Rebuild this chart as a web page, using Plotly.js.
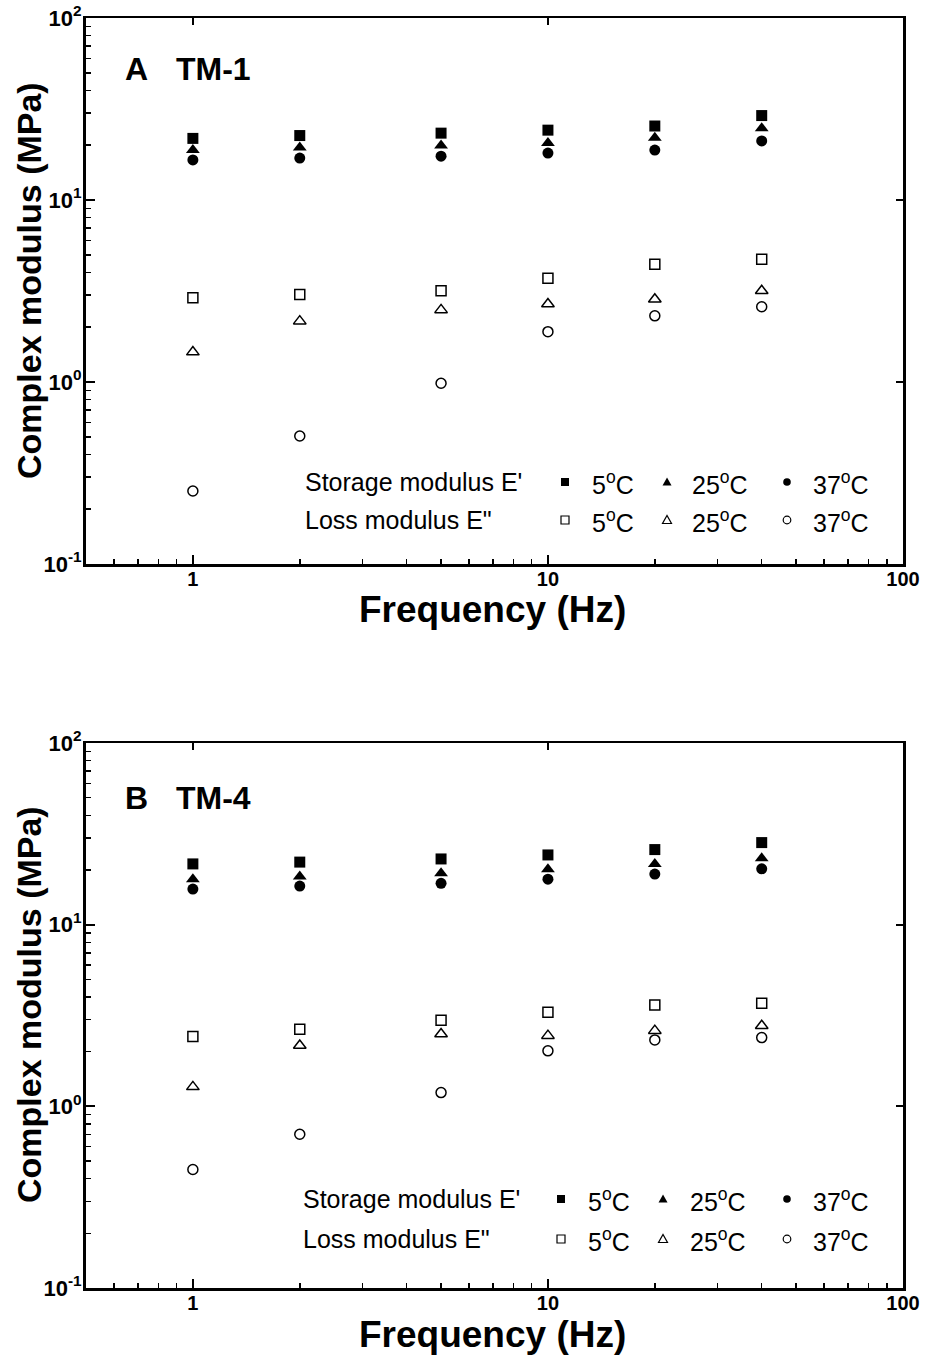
<!DOCTYPE html>
<html>
<head>
<meta charset="utf-8">
<script src="https://cdn.plot.ly/plotly-3.0.1.min.js"></script>
<style>html,body{margin:0;padding:0;background:#fff;}#chart{width:929px;height:1357px;}</style>
</head>
<body>
<div id="chart"></div>
<script>
// ---------------- data ----------------
const frequencyHz = [1, 2, 5, 10, 20, 40];

// Panel A : TM-1
const storageA_5C  = [21.8, 22.6, 23.3, 24.2, 25.5, 29.1];
const storageA_25C = [18.8, 19.4, 19.9, 20.6, 22.0, 24.8];
const storageA_37C = [16.6, 17.0, 17.4, 18.1, 18.8, 21.1];
const lossA_5C     = [2.90, 3.03, 3.17, 3.71, 4.43, 4.72];
const lossA_25C    = [1.46, 2.16, 2.49, 2.68, 2.85, 3.17];
const lossA_37C    = [0.252, 0.505, 0.984, 1.89, 2.31, 2.59];

// Panel B : TM-4
const storageB_5C  = [21.6, 22.1, 23.0, 24.2, 25.9, 28.3];
const storageB_25C = [17.8, 18.4, 19.2, 20.2, 21.6, 23.2];
const storageB_37C = [15.7, 16.3, 16.9, 17.8, 19.0, 20.3];
const lossB_5C     = [2.42, 2.66, 2.98, 3.30, 3.61, 3.69];
const lossB_25C    = [1.28, 2.16, 2.50, 2.45, 2.61, 2.78];
const lossB_37C    = [0.449, 0.702, 1.19, 2.02, 2.32, 2.39];

const seriesNames = ["Storage 5°C", "Storage 25°C", "Storage 37°C", "Loss 5°C", "Loss 25°C", "Loss 37°C"];
const temperatureLabels = ["5<sup>o</sup>C", "25<sup>o</sup>C", "37<sup>o</sup>C"];
const rowLabels = ["Storage modulus E'", "Loss modulus E\""];
const panelLetters = ["A", "B"];
const panelNames = ["TM-1", "TM-4"];

const xTickVals = [1, 10, 100];
const xTickText = ["1", "10", "100"];
const yTickVals = [0.1, 1, 10, 100];
const yTickText = ["10<sup>-1</sup>", "10<sup>0</sup>", "10<sup>1</sup>", "10<sup>2</sup>"];
const xTitle = "Frequency (Hz)";
const yTitle = "Complex modulus (MPa)";

// ---------------- styling ----------------
const FONT = "Liberation Sans, Arial, sans-serif";
const W = 929, H = 1357;
const M = {l: 86, r: 26, t: 18, b: 69};
const PW = W - M.l - M.r, PH = H - M.t - M.b;
const px2x = px => (px - M.l) / PW;
const py2y = py => 1 - (py - M.t) / PH;

const symbols = ["square", "triangle-up", "circle", "square-open", "triangle-up-open", "circle-open"];
const sizes = [11, 12, 11, 10, 11, 10];

function minorTicks(lo, hi) {
  const v = [];
  for (let e = lo; e < hi; e++) for (let d = 2; d <= 9; d++) v.push(d * Math.pow(10, e));
  return v;
}

const panels = [
  {ys: [storageA_5C, storageA_25C, storageA_37C, lossA_5C, lossA_25C, lossA_37C], xa: "x", ya: "y", fx: "x3", fy: "y3"},
  {ys: [storageB_5C, storageB_25C, storageB_37C, lossB_5C, lossB_25C, lossB_37C], xa: "x2", ya: "y2", fx: "x4", fy: "y4"}
];

const traces = [];
panels.forEach(p => {
  p.ys.forEach((ys, i) => {
    traces.push({
      type: "scatter", mode: "markers", x: frequencyHz, y: ys, name: seriesNames[i],
      xaxis: p.xa, yaxis: p.ya, showlegend: false, cliponaxis: false,
      marker: {symbol: symbols[i], size: sizes[i], color: "black",
               line: {color: "black", width: i >= 3 ? 1.5 : 0}}
    });
  });
  // empty trace so that the frame (top/right) axes get a subplot and are drawn
  traces.push({type: "scatter", mode: "markers", x: [], y: [], xaxis: p.fx, yaxis: p.fy, showlegend: false, hoverinfo: "skip"});
});

const XRANGE = [Math.log10(0.5), 2];
const YRANGE = [-1, 2];

function xAxis(anchor) {
  return {
    type: "log", range: XRANGE, anchor: anchor,
    showline: true, linewidth: 2.5, linecolor: "black", mirror: false,
    ticks: "inside", ticklen: 9, tickwidth: 2, tickcolor: "black",
    tickmode: "array", tickvals: xTickVals, ticktext: xTickText, ticklabelstandoff: -5,
    tickfont: {family: FONT, size: 20, weight: "bold", color: "black"},
    minor: {tickmode: "array", tickvals: minorTicks(-1, 2), ticks: "inside", ticklen: 5, tickwidth: 1.5, tickcolor: "black", showgrid: false},
    showgrid: false, zeroline: false
  };
}
function yAxis(anchor, domain) {
  return {
    type: "log", range: YRANGE, anchor: anchor, domain: domain,
    showline: true, linewidth: 3, linecolor: "black", mirror: false,
    ticks: "inside", ticklen: 9, tickwidth: 2, tickcolor: "black",
    tickmode: "array", tickvals: yTickVals, ticktext: yTickText, ticklabelstandoff: -3,
    tickfont: {family: FONT, size: 22, weight: "bold", color: "black"},
    minor: {tickmode: "array", tickvals: minorTicks(-1, 2), ticks: "inside", ticklen: 5, tickwidth: 1.5, tickcolor: "black", showgrid: false},
    showgrid: false, zeroline: false
  };
}
// opposite-side frame axes: major ticks only, no labels
function xTop(over, anchor) {
  return {type: "log", range: XRANGE, overlaying: over, anchor: anchor, side: "top",
    showline: true, linewidth: 2.5, linecolor: "black",
    ticks: "inside", ticklen: 7, tickwidth: 2, tickcolor: "black",
    tickmode: "array", tickvals: xTickVals, showticklabels: false, showgrid: false, zeroline: false};
}
function yRight(over, anchor) {
  return {type: "log", range: YRANGE, overlaying: over, anchor: anchor, side: "right",
    showline: true, linewidth: 2.5, linecolor: "black",
    ticks: "inside", ticklen: 7, tickwidth: 2, tickcolor: "black",
    tickmode: "array", tickvals: yTickVals, showticklabels: false, showgrid: false, zeroline: false};
}

const domA = [py2y(564), 1];
const domB = [0, py2y(743)];

const annotations = [];
const shapes = [];

// axis titles
const xTitleY = [609, 1334];
const yTitleY = [281, 1005];
for (let k = 0; k < 2; k++) {
  annotations.push({xref: "paper", yref: "paper", x: px2x(492), y: py2y(xTitleY[k]), xanchor: "center", yanchor: "middle",
    text: xTitle, showarrow: false, borderpad: 0, font: {family: FONT, size: 37, weight: "bold", color: "black"}});
  annotations.push({xref: "paper", yref: "paper", x: px2x(29), y: py2y(yTitleY[k]), xanchor: "center", yanchor: "middle",
    text: yTitle, textangle: -90, showarrow: false, font: {family: FONT, size: 34, weight: "bold", color: "black"}});
}

// panel labels
const panelLabelY = [69, 798];
panelLetters.forEach((L, k) => {
  annotations.push({xref: "paper", yref: "paper", x: px2x(123), y: py2y(panelLabelY[k]), xanchor: "left", yanchor: "middle",
    text: L, showarrow: false, font: {family: FONT, size: 32, weight: "bold", color: "black"}});
  annotations.push({xref: "paper", yref: "paper", x: px2x(174), y: py2y(panelLabelY[k]), xanchor: "left", yanchor: "middle",
    text: panelNames[k], showarrow: false, font: {family: FONT, size: 32, weight: "bold", color: "black"}});
});

// custom legends (row labels + markers + temperature labels)
const legendRows = [[482, 520], [1199, 1239]];
const legendTextX = [303, 301];
const markerX = [[565, 667, 787], [561, 663, 787]];
const tempTextX = [[590, 690, 811], [586, 688, 811]];
legendRows.forEach((rows, k) => {
  rows.forEach((ry, r) => {
    annotations.push({xref: "paper", yref: "paper", x: px2x(legendTextX[k]), y: py2y(ry), xanchor: "left", yanchor: "middle",
      text: rowLabels[r], showarrow: false, font: {family: FONT, size: 25, color: "black"}});
    for (let c = 0; c < 3; c++) {
      annotations.push({xref: "paper", yref: "paper", x: px2x(tempTextX[k][c]), y: py2y(ry + 1), xanchor: "left", yanchor: "middle",
        text: temperatureLabels[c], showarrow: false, font: {family: FONT, size: 25, color: "black"}});
      const filled = r === 0;
      const base = {xref: "paper", yref: "paper", xsizemode: "pixel", ysizemode: "pixel",
        xanchor: px2x(markerX[k][c]), yanchor: py2y(ry),
        line: {color: "black", width: filled ? 0 : 1.2},
        fillcolor: filled ? "black" : "rgba(0,0,0,0)"};
      if (c === 0) shapes.push(Object.assign({type: "rect", x0: -4, x1: 4, y0: -4, y1: 4}, base));
      if (c === 1) shapes.push(Object.assign({type: "path", path: "M-4.5,-3.5 L4.5,-3.5 L0,4.5 Z"}, base));
      if (c === 2) shapes.push(Object.assign({type: "circle", x0: -3.8, x1: 3.8, y0: -3.8, y1: 3.8}, base));
    }
  });
});

const layout = {
  width: W, height: H, margin: M,
  paper_bgcolor: "white", plot_bgcolor: "white",
  font: {family: FONT, color: "black"},
  showlegend: false,
  xaxis: xAxis("y"), yaxis: yAxis("x", domA),
  xaxis2: xAxis("y2"), yaxis2: yAxis("x2", domB),
  xaxis3: xTop("x", "y3"), yaxis3: yRight("y", "x3"),
  xaxis4: xTop("x2", "y4"), yaxis4: yRight("y2", "x4"),
  annotations: annotations, shapes: shapes
};

Plotly.newPlot("chart", traces, layout, {staticPlot: true, displayModeBar: false});
</script>
</body>
</html>
